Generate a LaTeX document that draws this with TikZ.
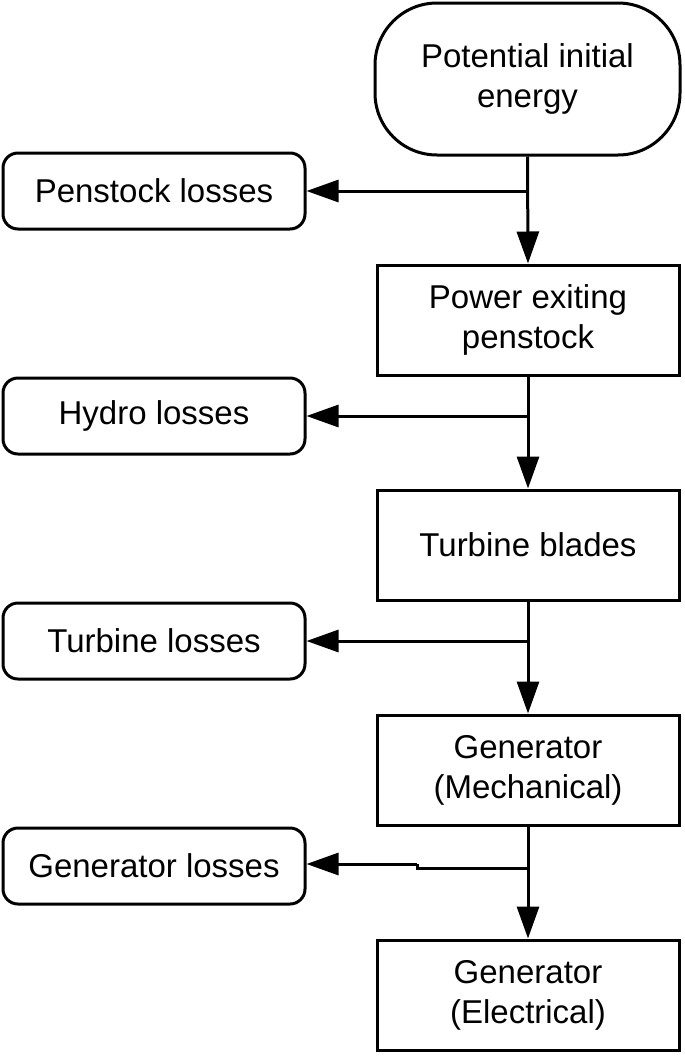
\documentclass[tikz,border=0pt]{standalone}
\usepackage{fontspec}
\setmainfont{Liberation Sans}
\usetikzlibrary{arrows.meta}
\begin{document}
\begin{tikzpicture}[x=1pt,y=-1pt,
  every node/.style={font=\fontsize{33}{40}\selectfont, align=center, inner sep=0pt},
  flowbox/.style={draw, line width=3pt, minimum width=302pt, minimum height=110pt},
  lossbox/.style={draw, line width=3pt, rounded corners=15pt, minimum width=302pt, minimum height=76pt},
  startbox/.style={draw, line width=3pt, rounded corners=62pt, minimum width=305pt, minimum height=152pt},
  arr/.style={line width=3pt, -{Triangle[length=32pt,width=22pt]}},
  seg/.style={line width=3pt}
]
\useasboundingbox (0,0) rectangle (685,1058);
\fill[white] (0,0) rectangle (685,1058);

\node[startbox] (pie) at (527.5,79) {Potential initial\\energy};
\node[flowbox] (pep) at (528,320) {Power exiting\\penstock};
\node[flowbox] (tb) at (528,545) {Turbine blades};
\node[flowbox] (gm) at (528,770) {Generator\\(Mechanical)};
\node[flowbox] (ge) at (528,995) {Generator\\(Electrical)};

\node[lossbox] (pl) at (154,191) {Penstock losses};
\node[lossbox] (hl) at (154,416) {Hydro losses};
\node[lossbox] (tl) at (154,641) {Turbine losses};
\node[lossbox] (gl) at (154,866) {Generator losses};

\coordinate (j1) at (pl.east -| pie.south);
\coordinate (j2) at (hl.east -| pep.south);
\coordinate (j3) at (tl.east -| tb.south);
\coordinate (j4) at ([yshift=-2pt]gl.east -| gm.south);
\coordinate (k4) at ([yshift=-2pt]gl.east -| 417,0);
\coordinate (m4) at ([yshift=2pt]gl.east -| 417,0);
\coordinate (n4) at ([yshift=2pt]gl.east);

\draw[arr] (pie.south) -- (pep.north);
\draw[arr] (j1) -- (pl.east);
\draw[arr] (pep.south) -- (tb.north);
\draw[arr] (j2) -- (hl.east);
\draw[arr] (tb.south) -- (gm.north);
\draw[arr] (j3) -- (tl.east);
\draw[arr] (gm.south) -- (ge.north);
\draw[seg] (j4) -- (k4) -- (m4);
\draw[arr] (m4) -- (n4);
\end{tikzpicture}
\end{document}
